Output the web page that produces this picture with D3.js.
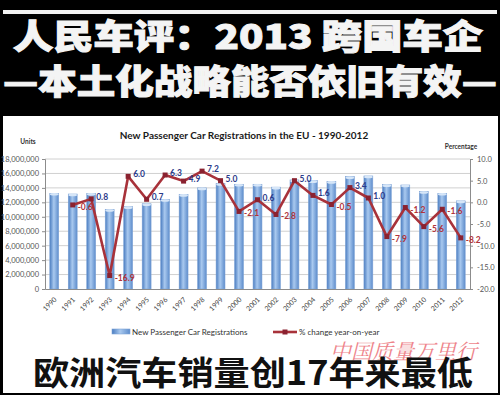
<!DOCTYPE html>
<html>
<head>
<meta charset="utf-8">
<script src="https://cdn.jsdelivr.net/npm/d3@7"></script>
<style>
  body { margin: 0; background: #000; }
  svg { display: block; }
</style>
</head>
<body>
<script>
// years on the x axis
var years = ["1990","1991","1992","1993","1994","1995","1996","1997","1998","1999","2000",
             "2001","2002","2003","2004","2005","2006","2007","2008","2009","2010","2011","2012"];
// new registrations, units
var registrations = [13250000, 13150000, 13250000, 11000000, 11400000, 11800000, 12400000, 13100000,
                     14000000, 14600000, 14500000, 14500000, 14100000, 15100000, 15000000, 14900000,
                     15550000, 15650000, 14450000, 14400000, 13500000, 13250000, 12200000];
// % change year-on-year (no value for 1990)
var pctChange = [null, -0.6, 0.8, -16.9, 6.0, 0.7, 6.3, 4.9, 7.2, 5.0, -2.1,
                 0.6, -2.8, 5.0, 1.6, -0.5, 3.4, 1.0, -7.9, -1.2, -5.6, -1.6, -8.2];
var leftTicks = [0, 2000000, 4000000, 6000000, 8000000, 10000000, 12000000, 14000000, 16000000, 18000000];
var rightTicks = [-20, -15, -10, -5, 0, 5, 10];

var W = 500, H = 395;
var svg = d3.select('body').append('svg').attr('width', W).attr('height', H);

var defs = svg.append('defs');
var grad = defs.append('linearGradient').attr('id', 'barGrad').attr('x1', '0').attr('x2', '1').attr('y1', '0').attr('y2', '0');
grad.append('stop').attr('offset', '0%').attr('stop-color', '#4a7cc0');
grad.append('stop').attr('offset', '45%').attr('stop-color', '#a9c9ef');
grad.append('stop').attr('offset', '100%').attr('stop-color', '#5d8ccb');

// black frame + header
svg.append('rect').attr('width', W).attr('height', H).attr('fill', '#000');
svg.append('rect').attr('x', 3).attr('y', 10).attr('width', 494).attr('height', 4).attr('fill', '#f2f2f2');
svg.append('rect').attr('x', 3).attr('y', 116).attr('width', 495).attr('height', 277).attr('fill', '#fff');

var cjk = '"Noto Sans CJK SC", sans-serif';
svg.append('text').attr('x', 13).attr('y', 49)
  .attr('textLength', 470).attr('lengthAdjust', 'spacingAndGlyphs')
  .style('font-family', cjk).style('font-weight', 900).style('font-size', '34px')
  .attr('fill', '#f4f4f4').attr('stroke', '#f4f4f4').attr('stroke-width', 1)
  .text('人民车评：2013 跨国车企');
svg.append('text').attr('x', 3).attr('y', 94)
  .attr('textLength', 494).attr('lengthAdjust', 'spacingAndGlyphs')
  .style('font-family', cjk).style('font-weight', 900).style('font-size', '34px')
  .attr('fill', '#f4f4f4').attr('stroke', '#f4f4f4').attr('stroke-width', 1)
  .text('—本土化战略能否依旧有效—');

// chart scales
var x = d3.scaleBand().domain(years).range([45, 470]).paddingInner(0.52).paddingOuter(0.26);
var yL = d3.scaleLinear().domain([0, 18000000]).range([289, 159]);
var yR = d3.scaleLinear().domain([-20, 10]).range([289, 159]);

var chartFont = 'Lato, "Open Sans", sans-serif';

svg.append('text').attr('x', 244).attr('y', 139).attr('text-anchor', 'middle')
  .style('font-family', chartFont).style('font-weight', 'bold').style('font-size', '10px')
  .attr('fill', '#1a1a1a').text('New Passenger Car Registrations in the EU - 1990-2012');

svg.append('text').attr('x', 28).attr('y', 144).attr('text-anchor', 'middle')
  .style('font-family', chartFont).style('font-weight', 'bold').style('font-size', '6.5px')
  .attr('fill', '#333').text('Units');
svg.append('text').attr('x', 461).attr('y', 149).attr('text-anchor', 'middle')
  .style('font-family', chartFont).style('font-weight', 'bold').style('font-size', '6.5px')
  .attr('fill', '#333').text('Percentage');

// gridlines
svg.append('g').selectAll('line').data(leftTicks.slice(1)).enter().append('line')
  .attr('x1', 45).attr('x2', 470)
  .attr('y1', function(d) { return yL(d); }).attr('y2', function(d) { return yL(d); })
  .attr('stroke', '#d0d0d0').attr('stroke-width', 1);

// left axis
var gL = svg.append('g').attr('transform', 'translate(45,0)')
  .call(d3.axisLeft(yL).tickValues(leftTicks).tickSize(3).tickPadding(3).tickFormat(d3.format(',')));
gL.select('.domain').attr('stroke', '#8c8c8c');
gL.selectAll('.tick line').attr('stroke', '#8c8c8c');
gL.selectAll('text').style('font-family', chartFont).style('font-size', '7.5px').attr('fill', '#555');

// right axis
var gR = svg.append('g').attr('transform', 'translate(470,0)')
  .call(d3.axisRight(yR).tickValues(rightTicks).tickSize(3).tickPadding(4)
    .tickFormat(function(d) { return d.toFixed(1); }));
gR.select('.domain').attr('stroke', '#8c8c8c');
gR.selectAll('.tick line').attr('stroke', '#8c8c8c');
gR.selectAll('text').style('font-family', chartFont).style('font-size', '7.5px').attr('fill', '#555');

// bars
svg.append('g').selectAll('rect').data(registrations).enter().append('rect')
  .attr('x', function(d, i) { return x(years[i]); })
  .attr('width', x.bandwidth())
  .attr('y', function(d) { return yL(d); })
  .attr('height', function(d) { return yL(0) - yL(d); })
  .attr('fill', 'url(#barGrad)')
  .attr('stroke', '#7da3d6').attr('stroke-width', 0.6);
// light caps on bar tops
svg.append('g').selectAll('ellipse').data(registrations).enter().append('ellipse')
  .attr('cx', function(d, i) { return x(years[i]) + x.bandwidth() / 2; })
  .attr('cy', function(d) { return yL(d) + 1; })
  .attr('rx', x.bandwidth() / 2).attr('ry', 1.3)
  .attr('fill', '#d6e6f8');

// bottom axis
var gX = svg.append('g').attr('transform', 'translate(0,289)')
  .call(d3.axisBottom(x).tickSize(0).tickPadding(0));
gX.select('.domain').attr('stroke', '#8c8c8c');
gX.selectAll('text')
  .style('font-family', chartFont).style('font-size', '7px').attr('fill', '#444')
  .attr('text-anchor', 'end')
  .attr('y', 0).attr('dy', 0)
  .attr('transform', 'translate(3,11) rotate(-45)');

// % change line
var pts = pctChange.map(function(v, i) { return { year: years[i], v: v }; })
  .filter(function(d) { return d.v !== null; });
var line = d3.line()
  .x(function(d) { return x(d.year) + x.bandwidth() / 2; })
  .y(function(d) { return yR(d.v); });
svg.append('path').datum(pts).attr('d', line)
  .attr('fill', 'none').attr('stroke', '#a8323a').attr('stroke-width', 2.6)
  .attr('stroke-linejoin', 'round');
svg.append('g').selectAll('rect').data(pts).enter().append('rect')
  .attr('x', function(d) { return x(d.year) + x.bandwidth() / 2 - 2.5; })
  .attr('y', function(d) { return yR(d.v) - 2.5; })
  .attr('width', 5).attr('height', 5)
  .attr('fill', '#8a2230');

svg.append('g').selectAll('text').data(pts).enter().append('text')
  .attr('x', function(d) { return x(d.year) + x.bandwidth() / 2 + 5; })
  .attr('y', function(d) { return yR(d.v) + (d.v < 0 ? 5 : 1); })
  .style('font-family', chartFont).style('font-weight', 'bold').style('font-size', '8.5px')
  .attr('fill', function(d) { return d.v < 0 ? '#b0333a' : '#2b3b8a'; })
  .text(function(d) { return d.v.toFixed(1); });

// legend
svg.append('rect').attr('x', 112).attr('y', 329).attr('width', 18).attr('height', 5)
  .attr('fill', 'url(#barGrad)').attr('stroke', '#7da3d6').attr('stroke-width', 0.6);
svg.append('text').attr('x', 132).attr('y', 335)
  .style('font-family', chartFont).style('font-size', '8px').attr('fill', '#333')
  .text('New Passenger Car Registrations');
svg.append('line').attr('x1', 273).attr('x2', 297).attr('y1', 332).attr('y2', 332)
  .attr('stroke', '#a8323a').attr('stroke-width', 2.6);
svg.append('rect').attr('x', 282.5).attr('y', 329.5).attr('width', 5).attr('height', 5).attr('fill', '#8a2230');
svg.append('text').attr('x', 299).attr('y', 335)
  .style('font-family', chartFont).style('font-size', '8px').attr('fill', '#333')
  .text('% change year-on-year');

// watermark
svg.append('text').attr('x', 330).attr('y', 359)
  .style('font-family', '"Noto Serif CJK SC", "Noto Sans CJK SC", serif').style('font-size', '21px')
  .style('font-style', 'italic')
  .attr('fill', '#e8505a').attr('opacity', 0.7).text('中国质量万里行');

// footer title
svg.append('text').attr('x', 33).attr('y', 385)
  .attr('textLength', 440).attr('lengthAdjust', 'spacingAndGlyphs')
  .style('font-family', cjk).style('font-weight', 'bold').style('font-size', '33px')
  .attr('fill', '#111')
  .text('欧洲汽车销量创17年来最低');
</script>
</body>
</html>
